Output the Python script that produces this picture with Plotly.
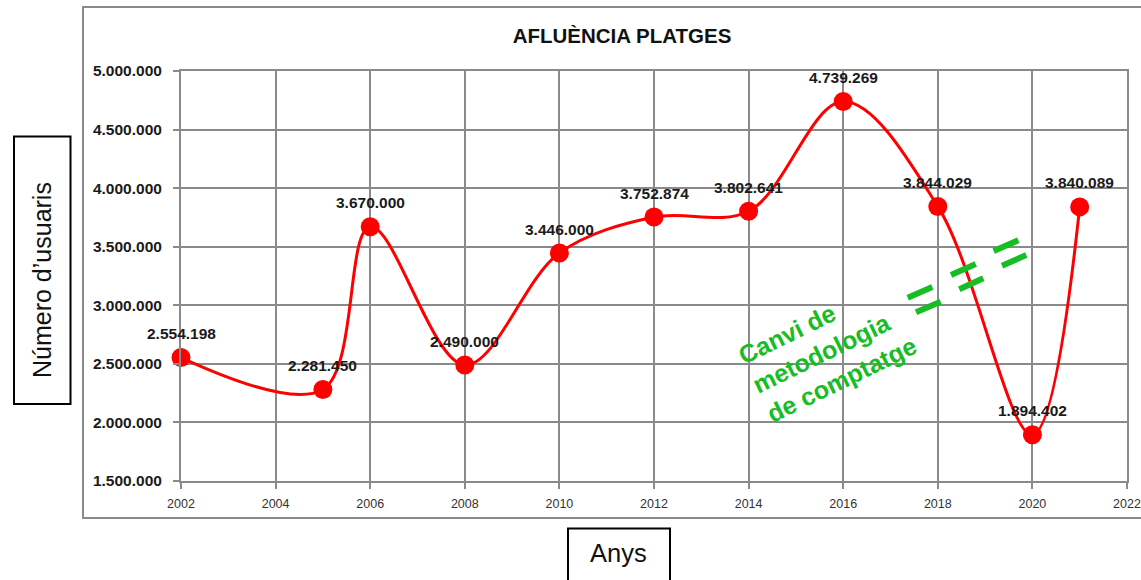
import plotly.graph_objects as go

# ---- data ----
years = [2002, 2005, 2006, 2008, 2010, 2012, 2014, 2016, 2018, 2020, 2021]
usuaris = [2554198, 2281450, 3670000, 2490000, 3446000, 3752874, 3802641,
           4739269, 3844029, 1894402, 3840089]
title_text = "AFLUÈNCIA PLATGES"
y_title = "Número d’usuaris"
x_title = "Anys"
note_text = "Canvi de<br>metodologia<br>de comptatge"

W, H = 1141, 580
ML, MR, MT, MB = 181, 14, 71, 99
PW, PH = W - ML - MR, H - MT - MB

def px(x):  # pixel -> paper x
    return (x - ML) / PW

def py(y):  # pixel -> paper y
    return (H - MB - y) / PH

GRID = "#8a8a8a"
GREEN = "#17BD24"
FONT = "Liberation Sans, Arial, sans-serif"

def fmt(v):
    return f"{v:,}".replace(",", ".")

fig = go.Figure()
fig.add_trace(go.Scatter(
    x=years, y=usuaris, mode="lines+markers",
    line=dict(color="#FF0000", width=3, shape="spline", smoothing=1.0),
    marker=dict(color="#FF0000", size=19),
    cliponaxis=False, showlegend=False, hoverinfo="x+y"))

annotations = []
for xv, yv in zip(years, usuaris):
    annotations.append(dict(
        x=xv, y=yv, xref="x", yref="y", text=fmt(yv), showarrow=False,
        yshift=24, font=dict(family=FONT, size=15.5, color="#1a1a1a", weight="bold")))

# axis titles
annotations.append(dict(
    x=px(42), y=py(280), xref="paper", yref="paper", text=y_title, textangle=-90,
    showarrow=False, xanchor="center", yanchor="middle",
    font=dict(family=FONT, size=25, color="#111")))
annotations.append(dict(
    x=px(618), y=py(553), xref="paper", yref="paper", text=x_title,
    showarrow=False, xanchor="center", yanchor="middle",
    font=dict(family=FONT, size=25.5, color="#111")))
# green note
annotations.append(dict(
    x=px(827), y=py(350), xref="paper", yref="paper", text=note_text, textangle=-26,
    showarrow=False, xanchor="center", yanchor="middle", align="left",
    font=dict(family=FONT, size=25, color=GREEN, weight="bold")))

shapes = [
    # outer chart frame
    dict(type="rect", xref="paper", yref="paper", x0=px(83), x1=px(1160),
         y0=py(518), y1=py(7), line=dict(color=GRID, width=2), layer="below"),
    # y-title box
    dict(type="rect", xref="paper", yref="paper", x0=px(14), x1=px(70.5),
         y0=py(404), y1=py(136.5), line=dict(color="black", width=2)),
    # x-title box
    dict(type="rect", xref="paper", yref="paper", x0=px(568), x1=px(670),
         y0=py(590), y1=py(528.5), line=dict(color="black", width=2)),
]
# green "change" marks (pixel segments)
marks = [((907.7, 297.7), (932.3, 287.0)), ((916.0, 312.3), (940.7, 301.7)),
         ((951.0, 275.0), (975.7, 264.0)), ((959.3, 289.3), (983.3, 278.3)),
         ((993.7, 251.0), (1018.3, 240.3)), ((1002.0, 265.7), (1026.3, 255.0))]
for (a, b) in marks:
    shapes.append(dict(type="line", xref="paper", yref="paper",
                       x0=px(a[0]), y0=py(a[1]), x1=px(b[0]), y1=py(b[1]),
                       line=dict(color=GREEN, width=6)))

fig.update_layout(
    width=W, height=H, margin=dict(l=ML, r=MR, t=MT, b=MB, pad=0, autoexpand=False),
    paper_bgcolor="white", plot_bgcolor="white", separators=",.",
    title=dict(text=title_text, x=622 / W, y=1 - 36 / H, xanchor="center",
               yanchor="middle", font=dict(family=FONT, size=20.5, color="#111",
                                           weight="bold")),
    annotations=annotations, shapes=shapes, showlegend=False,
    xaxis=dict(range=[2002, 2022], tick0=2002, dtick=2, showgrid=True,
               gridcolor=GRID, gridwidth=2, showline=True, mirror=True,
               linecolor=GRID, linewidth=2, ticks="outside", ticklen=6,
               tickcolor=GRID, tickwidth=2, zeroline=False, automargin=False,
               ticklabelstandoff=4, ticklabeloverflow="allow",
               tickfont=dict(family=FONT, size=12.5, color="#333")),
    yaxis=dict(range=[1500000, 5000000], tick0=1500000, dtick=500000,
               tickformat=",d", showgrid=True, gridcolor=GRID, gridwidth=2,
               showline=True, mirror=True, linecolor=GRID, linewidth=2,
               ticks="outside", ticklen=6, tickcolor=GRID, tickwidth=2,
               zeroline=False, automargin=False, ticklabelstandoff=8,
               tickfont=dict(family=FONT, size=15.5, color="#1a1a1a", weight="bold")),
)

fig.write_html(
    "out.html",
    config={"displayModeBar": False},
    post_script="document.body.style.margin='0';document.body.style.overflow='hidden';",
)
